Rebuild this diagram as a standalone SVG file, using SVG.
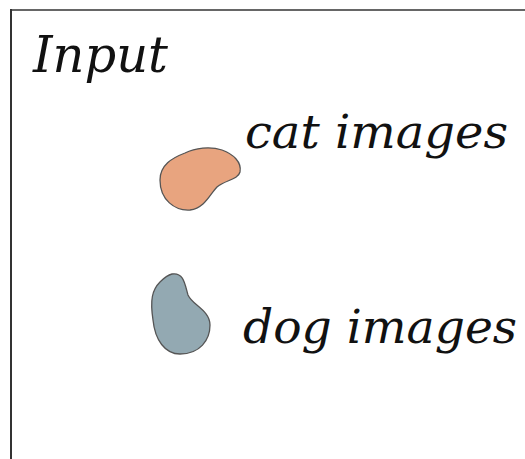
<svg xmlns="http://www.w3.org/2000/svg" width="525" height="459" viewBox="0 0 525 459">
<style>
.lbl{font-family:"DejaVu Serif",serif;font-style:italic;fill:#111;}
.blob{stroke:#555;stroke-width:1.3;}
</style>
<rect width="525" height="459" fill="#fff"/>
<g id="frame">
<line x1="11" y1="10" x2="525" y2="10" stroke="#666" stroke-width="2"/>
<line x1="11" y1="9" x2="11" y2="459" stroke="#333" stroke-width="2"/>
</g>
<g id="title"><text class="lbl" x="33" y="72" font-size="50" textLength="135" lengthAdjust="spacingAndGlyphs">Input</text></g>
<g id="cat">
<path class="blob" fill="#E8A47F" d="M160,180 C160,165 172,158 185,153 C195,148 210,146 222,150 C233,154 242,162 240,172 C238,180 225,180 217,187 C210,194 205,208 190,210 C175,211 160,200 160,180 Z"/>
<text class="lbl" x="245" y="148" font-size="46" textLength="263" lengthAdjust="spacingAndGlyphs">cat images</text>
</g>
<g id="dog">
<path class="blob" fill="#93A9B2" d="M172,274 C184,272 185,285 188,295 C192,305 210,310 210,325 C210,340 200,354 180,354 C165,354 155,340 153,320 C150,300 152,290 160,282 C164,278 168,275 172,274 Z"/>
<text class="lbl" x="243" y="343" font-size="46" textLength="274" lengthAdjust="spacingAndGlyphs">dog images</text>
</g>
<g id="connectors"/>
</svg>
